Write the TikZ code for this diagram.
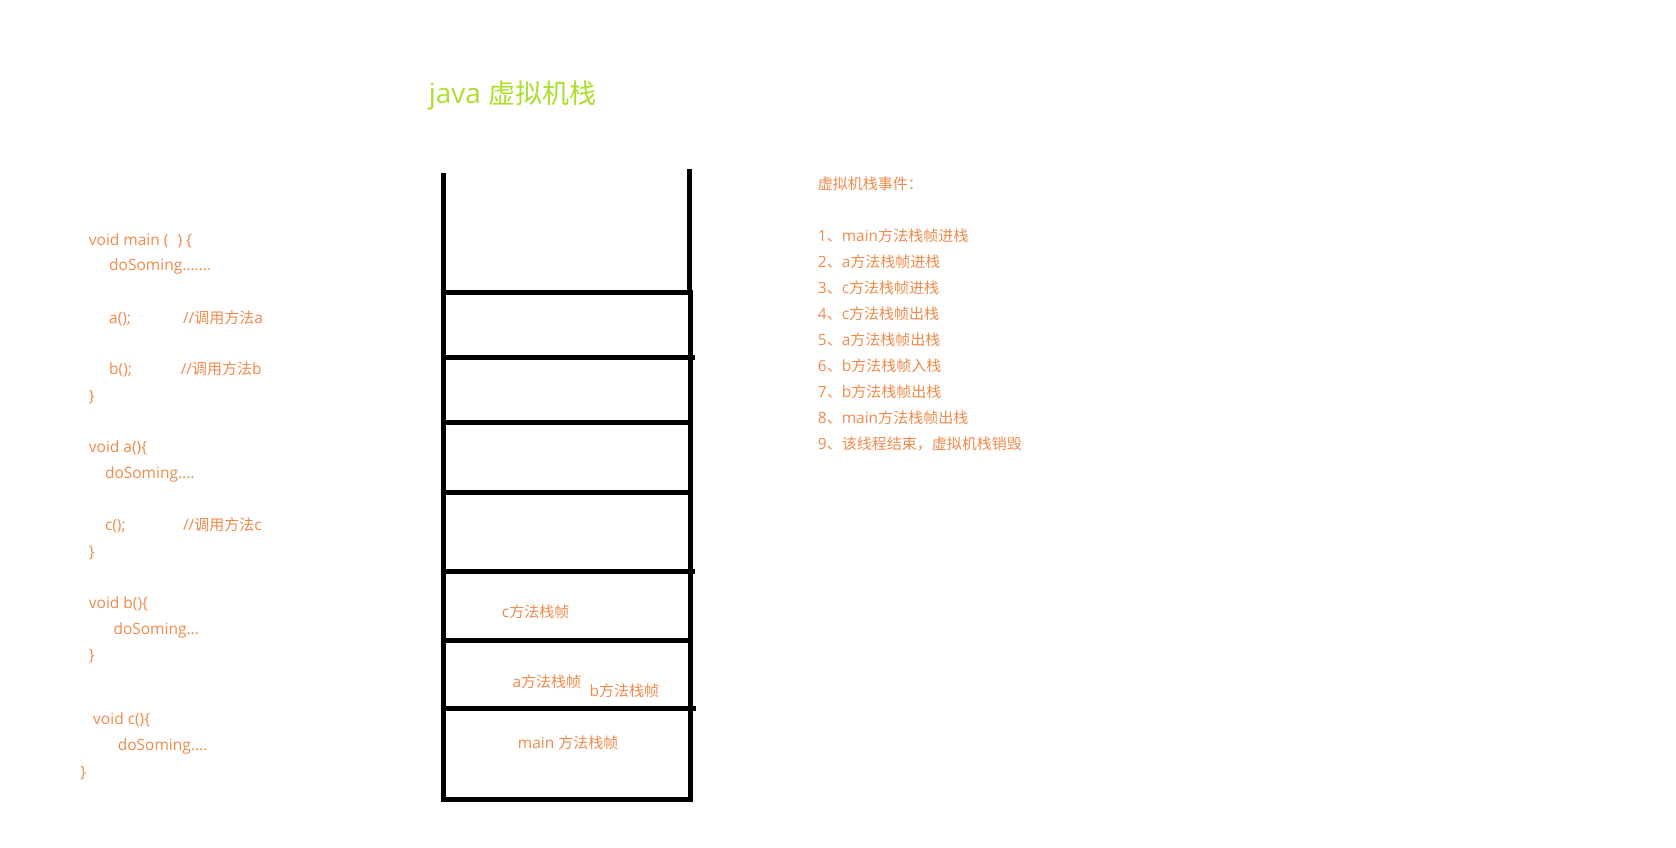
\documentclass[tikz,border=0pt]{standalone}
\usepackage{fontspec}
\setmainfont{Open Sans}
\newfontfamily\cjkf[Scale=0.968]{Noto Sans CJK SC}
\newcommand{\cj}[1]{{\cjkf #1}}
\definecolor{codeor}{RGB}{238,138,74}
\definecolor{titlegr}{RGB}{172,222,44}
\begin{document}
\begin{tikzpicture}[x=1pt,y=-1pt,
  txt/.style={anchor=base west, inner sep=0pt, text=codeor, font=\fontsize{15.5pt}{18pt}\selectfont},
  ttl/.style={anchor=base west, inner sep=0pt, text=titlegr, font=\fontsize{27.9pt}{30pt}\selectfont},
  stackline/.style={line width=5pt, black, line cap=rect}]
\useasboundingbox (0,0) rectangle (1676,847);

% title
\node[ttl] (title) at (428.6,103) {java \cj{虚拟机栈}};

% code
\node[txt] (l1)  at (88.7,245) {void main (\hspace{9pt}) \{};
\node[txt] (l2)  at (109,270.6) {doSoming.......};
\node[txt] (l3)  at (109,323) {a();};
\node[txt] (l3c) at (182.8,323) {//\cj{调用方法}a};
\node[txt] (l4)  at (109,374.3) {b();};
\node[txt] (l4c) at (180.6,374.3) {//\cj{调用方法}b};
\node[txt] (l5)  at (88.7,401) {\}};
\node[txt] (l6)  at (88.7,452.3) {void a()\{};
\node[txt] (l7)  at (104.8,478) {doSoming....};
\node[txt] (l8)  at (104.8,530.3) {c();};
\node[txt] (l8c) at (182.8,530.3) {//\cj{调用方法}c};
\node[txt] (l9)  at (88.7,557.1) {\}};
\node[txt] (l10) at (88.7,608.4) {void b()\{};
\node[txt] (l11) at (113.3,634) {doSoming...};
\node[txt] (l12) at (88.7,660.7) {\}};
\node[txt] (l13) at (93,724.9) {void c()\{};
\node[txt] (l14) at (117.6,750.5) {doSoming....};
\node[txt] (l15) at (80.2,777.3) {\}};

% events
\node[txt] (ev0) at (817.7,189.4) {\cj{虚拟机栈事件：}};
\node[txt] (ev1) at (817.7,241.7) {1\cj{、}main\cj{方法栈帧进栈}};
\node[txt] (ev2) at (817.7,267.4) {2\cj{、}a\cj{方法栈帧进栈}};
\node[txt] (ev3) at (817.7,293) {3\cj{、}c\cj{方法栈帧进栈}};
\node[txt] (ev4) at (817.7,319.8) {4\cj{、}c\cj{方法栈帧出栈}};
\node[txt] (ev5) at (817.7,345.4) {5\cj{、}a\cj{方法栈帧出栈}};
\node[txt] (ev6) at (817.7,371.1) {6\cj{、}b\cj{方法栈帧入栈}};
\node[txt] (ev7) at (817.7,397.8) {7\cj{、}b\cj{方法栈帧出栈}};
\node[txt] (ev8) at (817.7,423.4) {8\cj{、}main\cj{方法栈帧出栈}};
\node[txt] (ev9) at (817.7,449.1) {9\cj{、该线程结束，虚拟机栈销毁}};

% stack
\draw[stackline] (443.6,175) -- (443.6,799.5);
\draw[stackline] (689.5,171) -- (689.5,292.9) -- (690.5,292.9) -- (690.5,799.5);
\draw[stackline] (443.6,292.9) -- (690.5,292.9);
\draw[stackline] (443.6,357.0) -- (692,357.0);
\draw[stackline] (443.6,422.2) -- (690.5,422.2);
\draw[stackline] (443.6,492.8) -- (690.5,492.8);
\draw[stackline] (443.6,571.9) -- (692,571.9);
\draw[stackline] (443.6,640.3) -- (690.5,640.3);
\draw[stackline] (443.6,708.7) -- (693,708.7);
\draw[stackline] (443.6,799.5) -- (690.5,799.5);

% frame labels
\node[txt] (fc) at (501.7,617.2) {c\cj{方法栈帧}};
\node[txt] (fa) at (512.3,687.8) {a\cj{方法栈帧}};
\node[txt] (fb) at (589.3,696.2) {b\cj{方法栈帧}};
\node[txt] (fm) at (517.7,748.8) {main \cj{方法栈帧}};
\end{tikzpicture}
\end{document}
